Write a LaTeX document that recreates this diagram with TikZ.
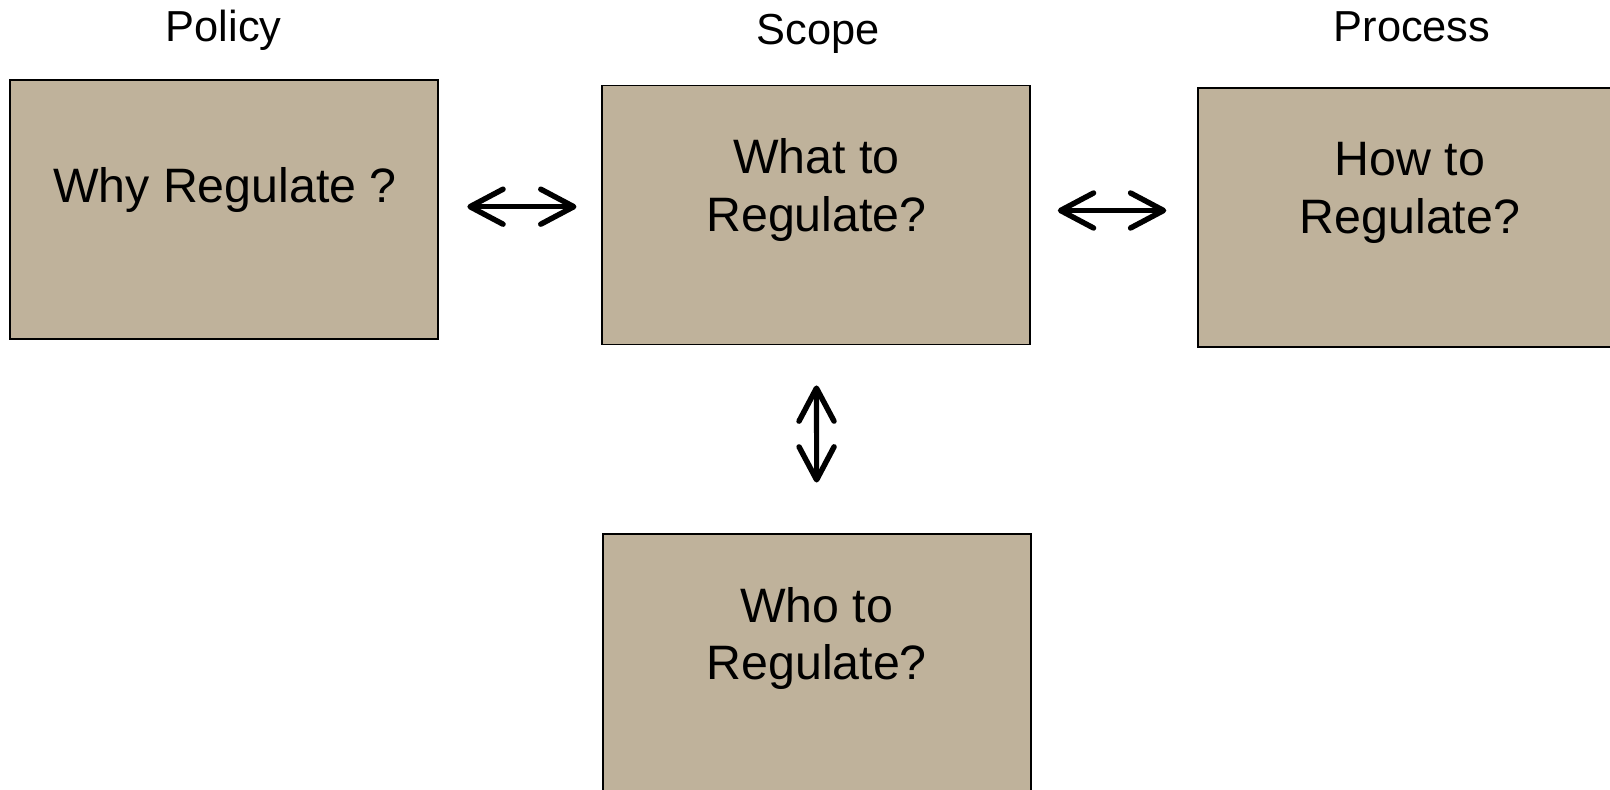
\documentclass[tikz,border=0pt]{standalone}
\usepackage{fontspec}
\setmainfont{Liberation Sans}
\usetikzlibrary{arrows.meta}
\definecolor{boxfill}{RGB}{191,178,155}

\begin{document}
\begin{tikzpicture}
    [
        x=0.02cm, y=-0.02cm,
        regbox/.style = {draw, fill=boxfill, shape=rectangle, minimum height=5.18cm, minimum width=8.56cm, line width=1.1pt, inner sep=0pt},
        boxtext/.style = {align=center, inner sep=0pt, font=\fontsize{27.5pt}{32.6pt}\selectfont},
        toptext/.style = {inner sep=0pt, anchor=base, font=\fontsize{24.7pt}{29pt}\selectfont},
        barb/.tip = {Straight Barb[length=0.66cm, width=0.7cm, line width=3.1pt, round]},
        biarrow/.style = {{barb}-{barb}, line width=2.9pt},
    ]

    \clip (0,0) rectangle (1610,790);

    \node[toptext] (policy) at (223.8,42) {Policy};
    \node[toptext] (scope) at (818,45) {Scope};
    \node[toptext] (process) at (1412,42) {Process};

    \node[regbox] (why) at (224.4,209.5) {};
    \node[regbox] (what) at (816.4,215) {};
    \node[regbox] (how) at (1411.7,217.5) {};
    \node[regbox] (who) at (816.7,663.5) {};

    \node[boxtext] (whytext) at (224.9,190) {Why Regulate ?};
    \node[boxtext] (whattext) at (816.4,190) {What to\\Regulate?};
    \node[boxtext] (howtext) at (1410,193) {How to\\Regulate?};
    \node[boxtext] (whotext) at (816.7,638.5) {Who to\\Regulate?};

    \draw[biarrow, shorten <=0.56cm, shorten >=0.5cm] ([yshift=0.056cm]why.east) -- ([yshift=0.056cm]why.east -| what.west);
    \draw[biarrow, shorten <=0.53cm, shorten >=0.61cm] ([yshift=0.09cm]what.east) -- ([yshift=0.09cm]what.east -| how.west);
    \draw[biarrow, shorten <=0.8cm, shorten >=1.01cm] (what.south) -- (who.north);
\end{tikzpicture}
\end{document}
